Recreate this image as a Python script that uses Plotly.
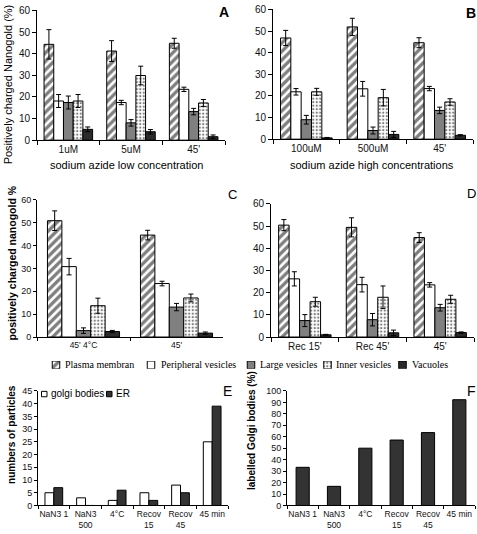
import plotly.graph_objects as go

W, H = 477, 534
def xp(px): return px / W
def yp(py): return 1 - py / H

# ---------------- data ----------------
series_names = ["Plasma membrane", "Peripheral vesicles", "Large vesicles", "Inner vesicles", "Vacuoles"]

cats_A = ["1uM", "5uM", "45'"]
plasma_A = [44.3, 41.2, 44.8];      plasma_A_err = [6.8, 4.8, 2.3]
peripheral_A = [18.1, 17.4, 23.5];  peripheral_A_err = [3.0, 1.0, 1.0]
large_A = [17.4, 8.0, 13.2];        large_A_err = [3.0, 1.5, 1.5]
inner_A = [18.1, 29.9, 17.2];       inner_A_err = [3.0, 4.3, 1.6]
vacuoles_A = [5.0, 3.9, 1.6];       vacuoles_A_err = [1.1, 1.0, 0.8]

cats_B = ["100uM", "500uM", "45'"]
plasma_B = [46.8, 51.9, 44.6];      plasma_B_err = [3.5, 4.0, 2.3]
peripheral_B = [21.9, 23.3, 23.4];  peripheral_B_err = [1.5, 3.4, 1.0]
large_B = [9.0, 4.0, 13.3];         large_B_err = [2.0, 1.6, 1.5]
inner_B = [21.9, 19.2, 17.2];       inner_B_err = [1.6, 3.8, 1.5]
vacuoles_B = [0.6, 2.2, 1.8];       vacuoles_B_err = [0.2, 1.4, 0.3]

cats_C = ["45' 4°C", "45'"]
plasma_C = [50.9, 44.6];            plasma_C_err = [4.3, 2.1]
peripheral_C = [30.8, 23.4];        peripheral_C_err = [3.6, 1.0]
large_C = [2.8, 13.1];              large_C_err = [1.2, 1.6]
inner_C = [13.7, 17.1];             inner_C_err = [3.3, 1.7]
vacuoles_C = [2.4, 1.7];            vacuoles_C_err = [0.5, 0.5]

cats_D = ["Rec 15'", "Rec 45'", "45'"]
plasma_D = [50.4, 49.4, 44.8];      plasma_D_err = [2.5, 4.3, 2.2]
peripheral_D = [26.2, 23.6, 23.5];  peripheral_D_err = [3.2, 3.3, 1.0]
large_D = [7.4, 7.8, 13.2];         large_D_err = [2.7, 2.8, 1.5]
inner_D = [15.9, 17.9, 17.0];       inner_D_err = [2.0, 5.1, 1.8]
vacuoles_D = [1.0, 1.9, 2.0];       vacuoles_D_err = [0.2, 1.2, 0.3]

cats_EF = ["NaN3 1", "NaN3<br>500", "4°C", "Recov<br>15", "Recov<br>45", "45 min"]
golgi_E = [5, 3, 2, 5, 8, 25]
er_E = [7, 0, 6, 2, 5, 39]
labelled_F = [33.3, 16.7, 50.0, 57.1, 63.6, 92.3]

# ---------------- styles ----------------
FONT = "Liberation Sans, Arial, sans-serif"
styles = [
    dict(color="white", pattern=dict(shape="/", fgcolor="black", bgcolor="white", size=6, solidity=0.55)),
    dict(color="white"),
    dict(color="#808080"),
    dict(color="white", pattern=dict(shape=".", fgcolor="black", bgcolor="white", size=3.5, solidity=0.35)),
    dict(color="#2b2b2b"),
]

fig = go.Figure()
layout = {}

def add_axes(n, xdom, ydom, ncat, yrange, dtick, xfont=10, yfont=10, ticklen=4, xticklen=None):
    xa = "xaxis" if n == 1 else f"xaxis{n}"
    ya = "yaxis" if n == 1 else f"yaxis{n}"
    xr = "x" if n == 1 else f"x{n}"
    yr = "y" if n == 1 else f"y{n}"
    layout[xa] = dict(domain=xdom, anchor=yr, type="category", range=[-0.5, ncat - 0.5],
                      showline=True, linecolor="black", linewidth=1, ticks="outside",
                      tickson="boundaries", ticklen=xticklen if xticklen is not None else ticklen,
                      tickcolor="black", showgrid=False, zeroline=False, tickangle=0,
                      tickfont=dict(family=FONT, size=xfont, color="#111"))
    layout[ya] = dict(domain=ydom, anchor=xr, range=yrange, dtick=dtick,
                      showline=True, linecolor="black", linewidth=1, ticks="outside",
                      ticklen=ticklen, tickcolor="black", showgrid=False, zeroline=False,
                      tickfont=dict(family=FONT, size=yfont, color="#111"))
    return xr, yr

grouped = [
    (1, cats_A, [plasma_A, peripheral_A, large_A, inner_A, vacuoles_A],
     [plasma_A_err, peripheral_A_err, large_A_err, inner_A_err, vacuoles_A_err],
     [xp(37), xp(225)], [yp(138), yp(5.5)], 10, 10, 4),
    (2, cats_B, [plasma_B, peripheral_B, large_B, inner_B, vacuoles_B],
     [plasma_B_err, peripheral_B_err, large_B_err, inner_B_err, vacuoles_B_err],
     [xp(273), xp(473)], [yp(137), yp(4.5)], 10, 10, 4),
    (3, cats_C, [plasma_C, peripheral_C, large_C, inner_C, vacuoles_C],
     [plasma_C_err, peripheral_C_err, large_C_err, inner_C_err, vacuoles_C_err],
     [xp(37), xp(223)], [yp(339), yp(199)], 8.5, 9, 3),
    (4, cats_D, [plasma_D, peripheral_D, large_D, inner_D, vacuoles_D],
     [plasma_D_err, peripheral_D_err, large_D_err, inner_D_err, vacuoles_D_err],
     [xp(271), xp(474)], [yp(339), yp(203)], 10, 10, 4),
]

w = 0.155
for n, cats, vals, errs, xdom, ydom, xf, yf, tl in grouped:
    xr, yr = add_axes(n, xdom, ydom, len(cats), [0, 60], 10, xf, yf, tl)
    for i in range(5):
        fig.add_trace(go.Bar(
            x=cats, y=vals[i], xaxis=xr, yaxis=yr, name=series_names[i], showlegend=False,
            width=w, offset=-2.5 * w + i * w,
            marker=dict(**styles[i], line=dict(color="black", width=1)),
            error_y=dict(type="data", array=errs[i], color="black", thickness=1, width=2.5),
        ))

# Panel E
xr, yr = add_axes(5, [xp(38), xp(228)], [yp(511), yp(394)], 6, [0, 45], 5, 8.5, 9, 3, 3)
wE = 0.28
fig.add_trace(go.Bar(x=cats_EF, y=golgi_E, xaxis=xr, yaxis=yr, name="golgi bodies", showlegend=False,
                     width=wE, offset=-wE, marker=dict(color="white", line=dict(color="black", width=1))))
fig.add_trace(go.Bar(x=cats_EF, y=er_E, xaxis=xr, yaxis=yr, name="ER", showlegend=False,
                     width=wE, offset=0, marker=dict(color="#333333", line=dict(color="black", width=1))))

# Panel F
xr, yr = add_axes(6, [xp(287), xp(475)], [yp(511), yp(394)], 6, [0, 100], 10, 8.5, 9, 3, 3)
wF = 0.42
fig.add_trace(go.Bar(x=cats_EF, y=labelled_F, xaxis=xr, yaxis=yr, name="labelled Golgi bodies", showlegend=False,
                     width=wF, marker=dict(color="#333333", line=dict(color="black", width=1))))

# Legend row (swatches drawn on a hidden helper axis so the fill patterns show)
legend_labels = ["Plasma membran", "Peripheral vesicles", "Large vesicles", "Inner vesicles", "Vacuoles"]
legend_swatch_px = [56, 151, 251, 327.5, 402.5]
legend_text_px = [63, 159, 258, 334, 410]
layout["xaxis7"] = dict(domain=[0, 1], range=[0, W], visible=False, anchor="y7")
layout["yaxis7"] = dict(domain=[yp(371.5), yp(363.5)], range=[0, 1], visible=False, anchor="x7")
for i in range(5):
    fig.add_trace(go.Bar(x=[legend_swatch_px[i]], y=[1], width=7.5, xaxis="x7", yaxis="y7",
                         showlegend=False, hoverinfo="skip",
                         marker=dict(**styles[i], line=dict(color="black", width=1))))

annotations = []
def ann(text, x, y, size, bold=False, angle=0, xanchor="center", family=FONT, color="black"):
    annotations.append(dict(text=f"<b>{text}</b>" if bold else text, x=xp(x), y=yp(y),
                            xref="paper", yref="paper", showarrow=False, textangle=angle,
                            xanchor=xanchor, yanchor="middle",
                            font=dict(family=family, size=size, color=color)))

for i in range(5):
    ann(legend_labels[i], legend_text_px[i], 367.5, 10, xanchor="left",
        family="Liberation Serif, Times New Roman, serif")

# panel letters
ann("A", 224, 7, 14, bold=True)
ann("B", 471, 8, 14, bold=True)
ann("C", 232, 193, 13)
ann("D", 471, 192, 13)
ann("E", 227, 394, 14)
ann("F", 471, 394, 14)

# axis titles
ann("Positively charged Nanogold (%)", 8, 81, 11, angle=-90)
ann("sodium azide low concentration", 126, 163, 11)
ann("sodium azide high concentrations", 372, 163, 11)
ann("positively charged nanogold %", 12, 264, 10.5, bold=True, angle=-90)
ann("numbers of particles", 12, 439, 10, bold=True, angle=-90)
ann("labelled Golgi bodies (%)", 251, 434, 10, bold=True, angle=-90)

# E legend
ann("golgi bodies", 49, 397, 10, xanchor="left")
ann("ER", 114, 397, 10, xanchor="left")
shapes = [
    dict(type="rect", xref="paper", yref="paper", x0=xp(41.5), x1=xp(47), y0=yp(400), y1=yp(394.5),
         fillcolor="white", line=dict(color="black", width=1)),
    dict(type="rect", xref="paper", yref="paper", x0=xp(106.5), x1=xp(112), y0=yp(400), y1=yp(394.5),
         fillcolor="#333333", line=dict(color="black", width=1)),
]

fig.update_layout(
    width=W, height=H, margin=dict(l=0, r=0, t=0, b=0),
    paper_bgcolor="white", plot_bgcolor="white",
    barmode="overlay", showlegend=False,
    annotations=annotations, shapes=shapes,
    font=dict(family=FONT, color="black"),
    **layout,
)

fig.write_html("out.html", config={"displayModeBar": False},
               post_script="document.body.style.margin='0';document.body.style.overflow='hidden';")
